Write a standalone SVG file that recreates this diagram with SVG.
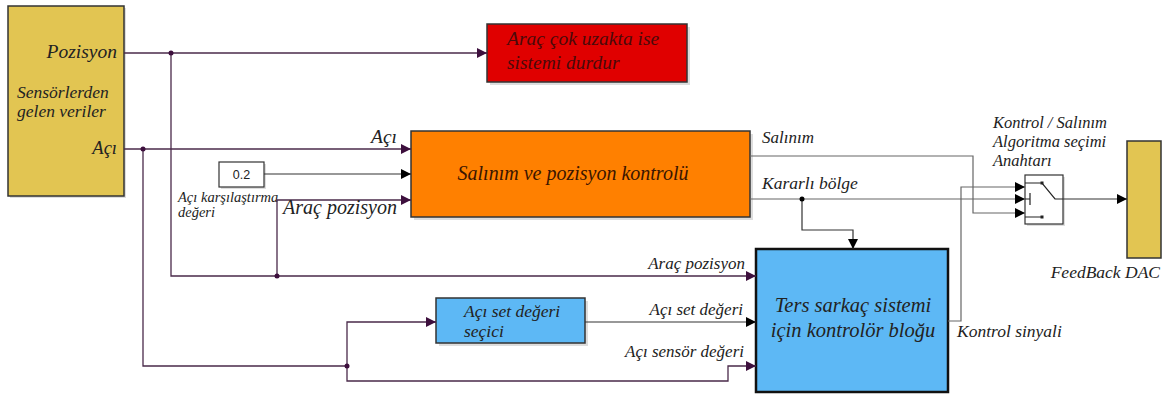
<svg xmlns="http://www.w3.org/2000/svg" width="1162" height="394" viewBox="0 0 1162 394">
<style>
.t{font-family:'Liberation Serif','DejaVu Serif','Times New Roman',serif;font-style:italic;fill:#222}
.p{fill:none;stroke:#4a2a4a;stroke-width:1.3}
.k{fill:none;stroke:#333;stroke-width:1.2}
.g{fill:none;stroke:#666;stroke-width:1.2}
.blk{stroke:#333;stroke-width:1.5}
.sh{fill:#bbb;opacity:0.5}
</style>
<defs>
<marker id="ap" viewBox="0 0 10 10" refX="10" refY="5" markerWidth="10" markerHeight="10" markerUnits="userSpaceOnUse" orient="auto"><path d="M0,0L10,5L0,10z" fill="#3d0f3d"/></marker>
<marker id="ak" viewBox="0 0 10 10" refX="10" refY="5" markerWidth="10" markerHeight="10" markerUnits="userSpaceOnUse" orient="auto"><path d="M0,0L10,5L0,10z" fill="#000"/></marker>
</defs>
<rect width="1162" height="394" fill="#fff"/>

<g id="sensors">
<rect class="sh" x="10" y="8" width="116" height="190"/>
<rect x="8" y="6" width="116" height="190" fill="#E2C552" class="blk"/>
<text class="t" x="117" y="58" font-size="19.5" text-anchor="end">Pozisyon</text>
<text class="t" x="17" y="98" font-size="17.5">Sensörlerden</text>
<text class="t" x="17" y="117" font-size="17.5">gelen veriler</text>
<text class="t" x="117" y="154" font-size="18.5" text-anchor="end">Açı</text>
</g>

<g id="stop">
<rect class="sh" x="490" y="27" width="200" height="58"/>
<rect x="487" y="24" width="200" height="58" fill="#E00000" class="blk"/>
<text class="t" x="507" y="45" font-size="19.5" style="fill:#4a0a0a">Araç çok uzakta ise</text>
<text class="t" x="507" y="69" font-size="19.5" style="fill:#4a0a0a">sistemi durdur</text>
</g>

<g id="salinim-kontrol">
<rect class="sh" x="414" y="134" width="339" height="86"/>
<rect x="411" y="131" width="339" height="86" fill="#FF8000" class="blk"/>
<text class="t" x="573" y="180" font-size="20" text-anchor="middle" style="fill:#3a1500">Salınım ve pozisyon kontrolü</text>
</g>

<g id="const">
<rect class="sh" x="221" y="164" width="45" height="25"/>
<rect x="219" y="162" width="45" height="25" fill="#fff" stroke="#333" stroke-width="1.2"/>
<text x="241.5" y="179" font-size="12.5" text-anchor="middle" font-family="Liberation Sans,Arial,sans-serif" fill="#222">0.2</text>
<text class="t" x="178" y="202" font-size="14.5">Açı karşılaştırma</text>
<text class="t" x="178" y="217" font-size="14.5">değeri</text>
</g>

<g id="set-secici">
<rect class="sh" x="439" y="301" width="149" height="45"/>
<rect x="436" y="298" width="149" height="45" fill="#5DB8F5" class="blk"/>
<text class="t" x="464" y="317" font-size="17.5">Açı set değeri</text>
<text class="t" x="464" y="337" font-size="17.5">seçici</text>
</g>

<g id="ters-sarkac">
<rect x="756" y="249" width="192" height="143" fill="#5DB8F5" stroke="#111" stroke-width="2.5"/>
<text class="t" x="853" y="312" font-size="20.5" text-anchor="middle">Ters sarkaç sistemi</text>
<text class="t" x="853" y="337" font-size="20.5" text-anchor="middle">için kontrolör bloğu</text>
</g>

<g id="switch">
<rect class="sh" x="1027" y="177" width="38" height="49"/>
<rect x="1025" y="175" width="38" height="49" fill="#fff" stroke="#333" stroke-width="1.2"/>
<path d="M1025,183H1042L1055,199H1063M1025,199H1030M1030,193V205M1025,217H1042" fill="none" stroke="#222" stroke-width="1.2"/>
<rect x="1040.5" y="181.5" width="3" height="3" fill="#222"/>
<rect x="1040.5" y="215.5" width="3" height="3" fill="#222"/>
<text class="t" x="993" y="128" font-size="16.5">Kontrol / Salınım</text>
<text class="t" x="993" y="147" font-size="16.5">Algoritma seçimi</text>
<text class="t" x="993" y="166" font-size="16.5">Anahtarı</text>
</g>

<g id="dac">
<rect x="1127" y="141" width="34" height="117" fill="#E2C552" class="blk"/>
<text class="t" x="1160" y="278" font-size="17.5" text-anchor="end">FeedBack DAC</text>
</g>

<g id="connectors">
<path class="p" d="M124,53H487" marker-end="url(#ap)"/>
<path class="p" d="M124,149H411" marker-end="url(#ap)"/>
<path class="k" d="M264,174H411" marker-end="url(#ak)"/>
<path class="p" d="M171,53V276H756" marker-end="url(#ap)"/>
<path class="p" d="M277,276V200H411" marker-end="url(#ap)"/>
<path class="p" d="M143,149V366H347V322H436" marker-end="url(#ap)"/>
<path class="p" d="M347,366V381H728V366H756" marker-end="url(#ap)"/>
<path class="k" d="M585,322H756" marker-end="url(#ak)"/>
<path class="g" d="M750,156H973V213H1025" marker-end="url(#ak)"/>
<path class="g" d="M750,199H1025" marker-end="url(#ak)"/>
<path class="k" d="M802,199V230H853V249" marker-end="url(#ak)"/>
<path class="g" d="M948,321H961V187H1025" marker-end="url(#ak)"/>
<path class="k" d="M1063,199H1127" marker-end="url(#ak)"/>
<circle cx="171" cy="53" r="2.5" fill="#3d0f3d"/>
<circle cx="143" cy="149" r="2.5" fill="#3d0f3d"/>
<circle cx="277" cy="276" r="2.5" fill="#3d0f3d"/>
<circle cx="347" cy="366" r="2.5" fill="#3d0f3d"/>
<circle cx="802" cy="199" r="2.5" fill="#000"/>
<text class="t" x="371" y="143" font-size="19.5">Açı</text>
<text class="t" x="283" y="214" font-size="20">Araç pozisyon</text>
<text class="t" x="745" y="269" font-size="17" text-anchor="end">Araç pozisyon</text>
<text class="t" x="743" y="315" font-size="17" text-anchor="end">Açı set değeri</text>
<text class="t" x="744" y="357" font-size="17" text-anchor="end">Açı sensör değeri</text>
<text class="t" x="762" y="143" font-size="17">Salınım</text>
<text class="t" x="762" y="189" font-size="17.5">Kararlı bölge</text>
<text class="t" x="957" y="337" font-size="17.5">Kontrol sinyali</text>
</g>
</svg>
